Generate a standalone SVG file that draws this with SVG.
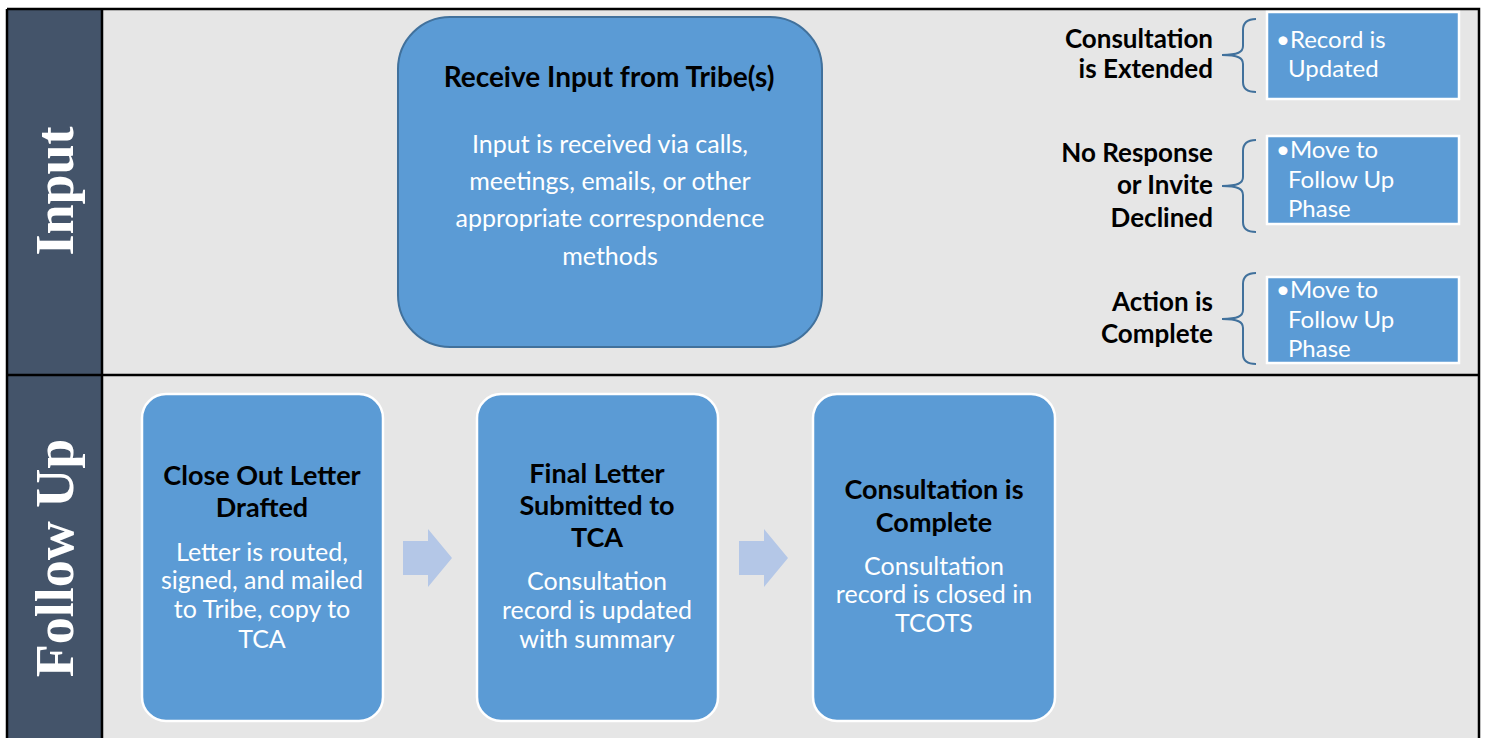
<svg xmlns="http://www.w3.org/2000/svg" width="1485" height="738" viewBox="0 0 1485 738">
<defs>
<style>
.lane{fill:#E6E6E6}
.hdr{fill:#44546A}
.grid{stroke:#000;stroke-width:2.5;fill:none}
.lanelbl{font-family:"Liberation Serif",serif;font-weight:bold;font-size:54px;fill:#fff}
.big{fill:#5B9BD5;stroke:#41719C;stroke-width:2}
.card{fill:#5B9BD5;stroke:#fff;stroke-width:2.5}
.ttl{font-family:Lato,"Liberation Sans",sans-serif;font-weight:bold;font-size:27px;fill:#000;text-anchor:middle}
.ttl.lg{font-size:28px}
.body{font-family:Lato,"Liberation Sans",sans-serif;font-size:25px;fill:#fff;text-anchor:middle}
.lbl{font-family:Lato,"Liberation Sans",sans-serif;font-weight:bold;font-size:26px;fill:#000;text-anchor:end}
.res{font-family:Lato,"Liberation Sans",sans-serif;font-size:24px;fill:#fff}
.brace{fill:none;stroke:#41719C;stroke-width:2}
.arr{fill:#B4C7E7}
</style>
</defs>
<rect class="lane" x="7" y="9" width="1472" height="740"/>
<rect class="hdr" x="7" y="9" width="95" height="740"/>
<g id="lanes">
<text class="lanelbl" transform="translate(73,191) rotate(-90)" text-anchor="middle">Input</text>
<text class="lanelbl" transform="translate(73,558) rotate(-90)" text-anchor="middle">Follow Up</text>
</g>
<path class="grid" d="M7,9 H1479 V750 M7,9 V750 M102,9 V750 M7,375 H1479"/>

<g id="receive-input">
<rect class="big" x="398" y="17" width="424" height="330" rx="52"/>
<text class="ttl lg" x="609" y="87">Receive Input from Tribe(s)</text>
<text class="body" x="610" y="153">Input is received via calls,</text>
<text class="body" x="610" y="190">meetings, emails, or other</text>
<text class="body" x="610" y="227">appropriate correspondence</text>
<text class="body" x="610" y="265">methods</text>
</g>

<g id="extended">
<text class="lbl" x="1213" y="48">Consultation</text>
<text class="lbl" x="1213" y="78">is Extended</text>
<path class="brace" d="M1256,19 C1248,19 1243,22 1243,30 L1243,46 C1243,52 1238,55 1222,55 C1238,55 1243,58 1243,64 L1243,82 C1243,89 1248,92 1256,92"/>
<rect class="card" x="1267" y="12" width="192" height="87"/>
<text class="res" x="1276" y="48">•Record is</text>
<text class="res" x="1288" y="77">Updated</text>
</g>

<g id="no-response">
<text class="lbl" x="1213" y="162">No Response</text>
<text class="lbl" x="1213" y="194">or Invite</text>
<text class="lbl" x="1213" y="227">Declined</text>
<path class="brace" d="M1256,140 C1248,140 1243,143 1243,151 L1243,177 C1243,183 1238,186 1222,186 C1238,186 1243,189 1243,195 L1243,222 C1243,229 1248,232 1256,232"/>
<rect class="card" x="1267" y="136" width="192" height="88"/>
<text class="res" x="1276" y="158">•Move to</text>
<text class="res" x="1288" y="188">Follow Up</text>
<text class="res" x="1288" y="217">Phase</text>
</g>

<g id="action-complete">
<text class="lbl" x="1213" y="311">Action is</text>
<text class="lbl" x="1213" y="343">Complete</text>
<path class="brace" d="M1256,273 C1248,273 1243,276 1243,284 L1243,310 C1243,316 1238,319 1222,319 C1238,319 1243,322 1243,328 L1243,354 C1243,361 1248,364 1256,364"/>
<rect class="card" x="1267" y="277" width="192" height="86"/>
<text class="res" x="1276" y="298">•Move to</text>
<text class="res" x="1288" y="328">Follow Up</text>
<text class="res" x="1288" y="357">Phase</text>
</g>

<g id="close-out-letter">
<rect class="card" x="142" y="394" width="241" height="327" rx="24"/>
<text class="ttl" x="262" y="485">Close Out Letter</text>
<text class="ttl" x="262" y="517">Drafted</text>
<text class="body" x="262" y="561">Letter is routed,</text>
<text class="body" x="262" y="589">signed, and mailed</text>
<text class="body" x="262" y="618">to Tribe, copy to</text>
<text class="body" x="262" y="648">TCA</text>
</g>

<g id="final-letter">
<rect class="card" x="477" y="394" width="241" height="327" rx="24"/>
<text class="ttl" x="597" y="483">Final Letter</text>
<text class="ttl" x="597" y="515">Submitted to</text>
<text class="ttl" x="597" y="547">TCA</text>
<text class="body" x="597" y="590">Consultation</text>
<text class="body" x="597" y="619">record is updated</text>
<text class="body" x="597" y="648">with summary</text>
</g>

<g id="consultation-complete">
<rect class="card" x="813" y="394" width="242" height="327" rx="24"/>
<text class="ttl" x="934" y="499">Consultation is</text>
<text class="ttl" x="934" y="532">Complete</text>
<text class="body" x="934" y="575">Consultation</text>
<text class="body" x="934" y="603">record is closed in</text>
<text class="body" x="934" y="632">TCOTS</text>
</g>

<g id="connectors">
<path class="arr" d="M403,541 H428 V529 L452,558 L428,587 V575 H403 Z"/>
<path class="arr" d="M739,541 H764 V529 L788,558 L764,587 V575 H739 Z"/>
</g>
</svg>
